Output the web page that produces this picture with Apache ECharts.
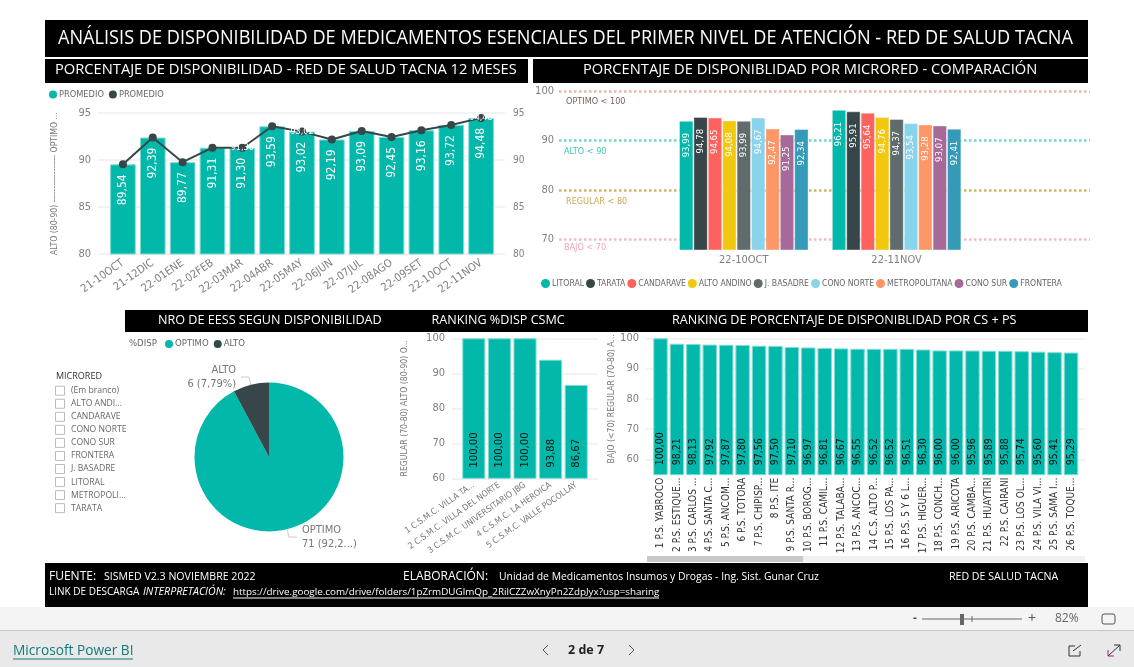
<!DOCTYPE html>
<html><head><meta charset="utf-8">
<style>html,body{margin:0;padding:0;background:#fff}#c{width:1134px;height:667px}</style>
<script src="https://cdn.jsdelivr.net/npm/echarts@6/dist/echarts.min.js"></script>
</head><body><div id="c"></div>
<script>
const months=['21-10OCT','21-12DIC','22-01ENE','22-02FEB','22-03MAR','22-04ABR','22-05MAY','22-06JUN','22-07JUL','22-08AGO','22-09SET','22-10OCT','22-11NOV'];
const promedioBars=[89.54,92.39,89.77,91.31,91.30,93.59,93.02,92.19,93.09,92.45,93.16,93.72,94.48];
const promedioLine=[89.54,92.39,89.77,91.31,91.30,93.59,93.02,92.19,93.09,92.45,93.16,93.72,94.48];
const lineLabelled=[4,6,12];
const periods=['22-10OCT','22-11NOV'];
const litoral=[93.99,96.21];
const tarata=[94.78,95.91];
const candarave=[94.65,95.64];
const altoAndino=[94.08,94.76];
const jBasadre=[93.99,94.37];
const conoNorte=[94.67,93.54];
const metropolitana=[92.47,93.28];
const conoSur=[91.25,93.07];
const frontera=[92.34,92.41];
const pieNames=['OPTIMO','ALTO'];
const pieValues=[71,6];
const pieTexts=['71 (92,2...)','6 (7,79%)'];
const csmcNames=['1 C.S.M.C. VILLA TA...','2 C.S.M.C. VILLA DEL NORTE','3 C.S.M.C. UNIVERSITARIO JBG','4 C.S.M.C. LA HEROICA','5 C.S.M.C. VALLE POCOLLAY'];
const csmcValues=[100,100,100,93.88,86.67];
const psNames=['1 P.S. YABROCO','2 P.S. ESTIQUE...','3 P.S. CARLOS ...','4 P.S. SANTA C...','5 P.S. ANCOM...','6 P.S. TOTORA','7 P.S. CHIPISP...','8 P.S. ITE','9 P.S. SANTA R...','10 P.S. BOROG...','11 P.S. CAMIL...','12 P.S. TALABA...','13 P.S. ANCOC...','14 C.S. ALTO P...','15 P.S. LOS PA...','16 P.S. 5 Y 6 L...','17 P.S. HIGUER...','18 P.S. CONCH...','19 P.S. ARICOTA','20 P.S. CAMBA...','21 P.S. HUAYTIRI','22 P.S. CAIRANI','23 P.S. LOS OL...','24 P.S. VILA VI...','25 P.S. SAMA I...','26 P.S. TOQUE...'];
const psValues=[100,98.21,98.13,97.92,97.87,97.80,97.56,97.50,97.10,96.97,96.81,96.67,96.55,96.52,96.52,96.51,96.30,96.00,96.00,95.96,95.89,95.88,95.74,95.60,95.41,95.29];
const microredList=['(Em branco)','ALTO ANDI...','CANDARAVE','CONO NORTE','CONO SUR','FRONTERA','J. BASADRE','LITORAL','METROPOLI...','TARATA'];

const TEAL='#01B8AA',DARK='#374649',NARROW='"DejaVu Sans Condensed",Roboto,sans-serif',SANS='"Open Sans","Noto Sans",sans-serif';
const fmt=p=>Number(p.value).toFixed(2).replace('.',',');
const tiles=[];
const rect=(x,y,w,h,fill,z)=>tiles.push({type:'rect',silent:true,z:z||0,shape:{x,y,width:w,height:h},style:{fill}});
const text=(x,y,t,o,sx)=>tiles.push({type:'text',silent:true,z:5,x,y,scaleX:sx||1,style:Object.assign({text:t,fill:'#fff',font:'12px '+SANS,textVerticalAlign:'middle'},o||{})});
const line=(x1,y1,x2,y2,stroke,w)=>tiles.push({type:'line',silent:true,z:5,shape:{x1,y1,x2,y2},style:{stroke,lineWidth:w||1}});

// black banners
rect(45,20,1043,37,'#000');
rect(45,59,483,24,'#000');
rect(533,59,555,24,'#000');
rect(125,310,963,22,'#000');
rect(45,563,1043,44,'#000');
text(58,38.5,'ANÁLISIS DE DISPONIBILIDAD DE MEDICAMENTOS ESENCIALES DEL PRIMER NIVEL DE ATENCIÓN - RED DE SALUD TACNA',{font:'19.5px '+SANS},0.93);
text(55,70,'PORCENTAJE DE DISPONIBILIDAD - RED DE SALUD TACNA 12 MESES',{font:'14.7px '+SANS});
text(583,70,'PORCENTAJE DE DISPONIBLIDAD POR MICRORED - COMPARACIÓN',{font:'14.7px '+SANS});
text(158,320,'NRO DE EESS SEGUN DISPONIBILIDAD',{font:'12.6px '+SANS});
text(431.5,320,'RANKING %DISP CSMC',{font:'12.6px '+SANS});
text(672,320,'RANKING DE PORCENTAJE DE DISPONIBLIDAD POR CS + PS',{font:'12.6px '+SANS});
// footer
text(49,577,'FUENTE:',{font:'12px '+SANS});
text(104,577,'SISMED V2.3 NOVIEMBRE 2022',{font:'10.6px '+SANS});
text(403,577,'ELABORACIÓN:',{font:'12px '+SANS});
text(499,577,'Unidad de Medicamentos Insumos y Drogas - Ing. Sist. Gunar Cruz',{font:'10.4px '+SANS});
text(949,577,'RED DE SALUD TACNA',{font:'10.6px '+SANS});
text(49,592,'LINK DE DESCARGA',{font:'10px '+SANS});
text(143,592,'INTERPRETACIÓN:',{font:'italic 10.6px '+SANS});
text(233,592,'https://drive.google.com/drive/folders/1pZrmDUGlmQp_2RilCZZwXnyPn2ZdpJyx?usp=sharing',{font:'9.85px '+SANS});
line(233,598,659,598,'#fff',1);
// bottom bars
rect(0,607,1134,23,'#f4f4f4');
rect(0,630,1134,37,'#e9e9e9');
rect(0,630,1134,1,'#c8c8c8');
text(13,651,'Microsoft Power BI',{fill:'#117a7a',font:'13.7px '+SANS});
line(13,659,133,659,'#117a7a',1);
text(568,650,'2 de 7',{fill:'#222',font:'bold 12.5px '+SANS});
tiles.push({type:'polyline',silent:true,z:5,shape:{points:[[548,645],[543,650],[548,655]]},style:{stroke:'#555',fill:null}});
tiles.push({type:'polyline',silent:true,z:5,shape:{points:[[629,645],[634,650],[629,655]]},style:{stroke:'#555',fill:null}});
text(913,619,'-',{fill:'#555',font:'bold 12px '+SANS});
line(922,619,1022,619,'#666',1);
rect(960,614,4,11,'#666',5);
line(972,616,972,622,'#666',1);
text(1028,619,'+',{fill:'#555',font:'14px '+SANS});
text(1055,619,'82%',{fill:'#666',font:'12px '+SANS});
tiles.push({type:'rect',silent:true,z:5,shape:{x:1102,y:614,width:13,height:10,r:2},style:{fill:null,stroke:'#555'}});
tiles.push({type:'polyline',silent:true,z:5,shape:{points:[[1075,646],[1069,646],[1069,656],[1080,656],[1080,651]]},style:{stroke:'#333',fill:null}});
line(1073,651,1081,645,'#333',1);
line(1108,656,1120,645,'#333',1);
tiles.push({type:'polyline',silent:true,z:5,shape:{points:[[1114,645],[1120,645],[1120,651]]},style:{stroke:'#333',fill:null}});
tiles.push({type:'polyline',silent:true,z:5,shape:{points:[[1108,650],[1108,656],[1114,656]]},style:{stroke:'#a0208a',fill:null}});
// threshold captions
text(566,102,'OPTIMO < 100',{fill:'#7b5f5b',font:'9.5px '+NARROW},0.95);
text(564,152,'ALTO < 90',{fill:'#45c4ba',font:'9.5px '+NARROW},0.95);
text(566,202,'REGULAR < 80',{fill:'#c5a94f',font:'9.5px '+NARROW},0.95);
text(564,248,'BAJO < 70',{fill:'#f5a3b4',font:'9.5px '+NARROW},0.95);
text(129,343.5,'%DISP',{fill:'#666',font:'9.5px '+NARROW});
// slicer
text(56,376,'MICRORED',{fill:'#333',font:'9px '+SANS});
microredList.forEach((n,i)=>{
  const y=390.7+i*13.05;
  tiles.push({type:'rect',silent:true,z:5,shape:{x:55.5,y:y-4.5,width:9,height:9},style:{fill:'#fff',stroke:'#bbb'}});
  text(71,y,n,{fill:'#666',font:'8.6px '+SANS});
});
// scrollbar
rect(647,556,438,6,'#f1f1f1',1);
rect(647,556,156,6,'#c8c8c8',2);

const grids=[],xAxes=[],yAxes=[],series=[];
const GREY='#808080';
function plate(left,right,top,bottom,min,max,interval,opt){
  opt=opt||{};
  grids.push({left,top,width:right-left,height:bottom-top});
  const g=grids.length-1;
  xAxes.push({gridIndex:g,type:'value',min:0,max:1,show:false});
  yAxes.push({gridIndex:g,type:'value',min,max,interval,axisLine:{show:false},axisTick:{show:false},
    axisLabel:{color:GREY,fontSize:opt.fs||11,fontFamily:NARROW,margin:opt.margin||7},
    splitLine:opt.split||{show:true,lineStyle:{color:'#eeeeee',width:1.5}},
    nameLocation:'middle',nameRotate:90,nameGap:opt.nameGap||30,name:opt.name||'',
    nameTextStyle:{color:'#777',fontSize:8.6,fontFamily:NARROW}});
  if(opt.right) yAxes.push({gridIndex:g,type:'value',position:'right',min,max,interval,axisLine:{show:false},axisTick:{show:false},splitLine:{show:false},axisLabel:{color:GREY,fontSize:10,fontFamily:NARROW,margin:8}});
}
function front(left,right,top,bottom,min,max,cats,xl){
  grids.push({left,top,width:right-left,height:bottom-top});
  const g=grids.length-1;
  xAxes.push({gridIndex:g,type:'category',data:cats,axisLine:{show:false},axisTick:{show:false},axisLabel:Object.assign({interval:0,color:GREY,fontFamily:NARROW},xl)});
  yAxes.push({gridIndex:g,type:'value',min,max,show:false});
  return {x:xAxes.length-1,y:yAxes.length-1};
}
const edge=c=>({color:c,borderColor:'rgba(255,255,255,0.4)',borderWidth:1});

// chart 1
plate(98,505,113,254,80,95,5,{right:true,name:'ALTO (80-90) ----------------- OPTIMO ...',nameGap:39});
const a1=front(108,496,113,254,80,95,months,{rotate:35,fontSize:11,margin:8});
series.push({name:'PROMEDIO',type:'bar',xAxisIndex:a1.x,yAxisIndex:a1.y,data:promedioBars,barCategoryGap:'14%',itemStyle:{color:TEAL,borderColor:'#7fdcd4',borderWidth:1},
  label:{show:true,position:'insideTop',distance:10,rotate:90,align:'right',verticalAlign:'middle',color:'#fff',fontSize:12,fontFamily:NARROW,formatter:fmt}});
series.push({name:'PROMEDIO ',type:'line',xAxisIndex:a1.x,yAxisIndex:a1.y,
  data:promedioLine.map((v,i)=>({value:v,label:{show:lineLabelled.includes(i)}})),
  symbol:'circle',symbolSize:8,itemStyle:{color:DARK},lineStyle:{color:DARK,width:2},
  label:{position:'inside',color:'#fff',fontSize:9,fontFamily:NARROW,formatter:fmt},z:5});

// chart 2
plate(559,1090,91,239.5,70,100,10,{fs:11,margin:5,split:{show:true,lineStyle:{type:'dotted',width:2.5,color:['#f7b9bf','#cbb86d','#72d5cc','#e9b6a9']}}});
const a2=front(667.4,973,91,250,68,100,periods,{fontSize:11,margin:5});
[['LITORAL',litoral,'#01B8AA'],['TARATA',tarata,'#374649'],['CANDARAVE',candarave,'#FD625E'],['ALTO ANDINO',altoAndino,'#F2C80F'],['J. BASADRE',jBasadre,'#5F6B6D'],['CONO NORTE',conoNorte,'#8AD4EB'],['METROPOLITANA',metropolitana,'#FE9666'],['CONO SUR',conoSur,'#A66999'],['FRONTERA',frontera,'#3599B8']].forEach(([name,data,c])=>{
  series.push({name,type:'bar',xAxisIndex:a2.x,yAxisIndex:a2.y,data,barGap:0,barCategoryGap:'15.2%',itemStyle:edge(c),
    label:{show:true,position:'insideTop',distance:12,rotate:90,align:'right',verticalAlign:'middle',color:'#fff',fontSize:9.5,fontFamily:NARROW,formatter:fmt}});
});

// chart 3
series.push({name:'DISP',type:'pie',center:[269,457],radius:[0,74.5],startAngle:90,clockwise:true,
  data:pieNames.map((n,i)=>({name:n,value:pieValues[i],itemStyle:{color:i?DARK:TEAL}})),
  label:{show:true,position:'outside',color:'#777',fontSize:11,fontFamily:NARROW,lineHeight:14,formatter:p=>p.name+'\n'+pieTexts[p.dataIndex]},
  labelLine:{show:true,length:8,length2:8,lineStyle:{color:'#ccc'}},emphasis:{disabled:true}});

// chart 4
plate(452,598,338.3,478.3,60,100,10,{name:'REGULAR (70-80) ALTO (80-90) O...',nameGap:43});
const a4=front(461,589,338.3,478.3,60,100,csmcNames,{rotate:35,fontSize:8.6,margin:6,color:'#777'});
const blackIn={show:true,position:'insideBottom',distance:11,rotate:90,align:'left',verticalAlign:'middle',color:'#111',fontSize:11.3,fontFamily:NARROW,formatter:fmt};
series.push({name:'CSMC',type:'bar',xAxisIndex:a4.x,yAxisIndex:a4.y,data:csmcValues,barCategoryGap:'10%',itemStyle:{color:TEAL,borderColor:'#7fdcd4',borderWidth:1},label:blackIn});

// chart 5
plate(646,1085,338.3,459.3,60,100,10,{name:'BAJO (<70) REGULAR (70-80) A...',nameGap:30});
const a5=front(652.3,1079.2,338.3,474.7,55,100,psNames,{rotate:90,fontSize:10,margin:3,color:'#333'});
series.push({name:'PS',type:'bar',xAxisIndex:a5.x,yAxisIndex:a5.y,data:psValues,barCategoryGap:'12%',itemStyle:{color:TEAL,borderColor:'#7fdcd4',borderWidth:1},label:Object.assign({},blackIn,{distance:10,fontSize:10.5})});

const lg=(o,fs)=>Object.assign({icon:'circle',itemWidth:8,itemHeight:8,padding:0,itemStyle:{borderWidth:0},textStyle:{color:'#666',fontSize:fs||9.2,fontFamily:NARROW,padding:[0,0,0,-3]},selectedMode:false},o);
const option={animation:false,backgroundColor:'#fff',textStyle:{fontFamily:SANS},grid:grids,xAxis:xAxes,yAxis:yAxes,series,
 legend:[
  lg({left:49,top:90,itemGap:5,data:['PROMEDIO','PROMEDIO '],formatter:n=>n.trim()}),
  lg({left:541,top:279,itemGap:2,itemWidth:9,itemHeight:9,width:590,data:['LITORAL','TARATA','CANDARAVE','ALTO ANDINO','J. BASADRE','CONO NORTE','METROPOLITANA','CONO SUR','FRONTERA']},8.6),
  lg({left:165,top:339,itemGap:5,data:pieNames},9.5)
 ],
 graphic:{elements:tiles}};
const chart=echarts.init(document.getElementById('c'),null,{renderer:'canvas',width:1134,height:667});
chart.setOption(option);
</script></body></html>
